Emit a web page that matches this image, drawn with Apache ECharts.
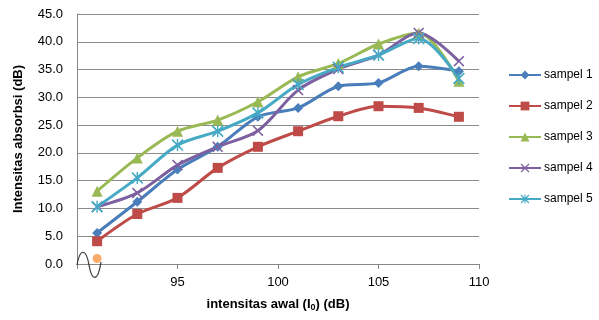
<!DOCTYPE html>
<html>
<head>
<meta charset="utf-8">
<script src="https://cdn.jsdelivr.net/npm/echarts@6/dist/echarts.min.js"></script>
<style>
  html, body { margin: 0; padding: 0; background: #fff; }
  #chart { width: 599px; height: 320px; }
</style>
</head>
<body>
<div id="chart"></div>
<script>
// intensitas awal (dB)
const xValues = [91, 93, 95, 97, 99, 101, 103, 105, 107, 109];
const sampel1 = [5.6, 11.2, 17.0, 21.1, 26.5, 28.1, 32.0, 32.6, 35.6, 34.7];
const sampel2 = [4.1, 9.0, 11.9, 17.3, 21.1, 23.9, 26.6, 28.4, 28.1, 26.5];
const sampel3 = [13.1, 19.1, 23.9, 25.9, 29.2, 33.7, 36.1, 39.6, 41.6, 32.9];
const sampel4 = [10.3, 12.8, 17.8, 21.1, 24.0, 31.3, 35.1, 37.6, 41.6, 36.5];
const sampel5 = [10.3, 15.5, 21.4, 23.9, 27.2, 32.3, 35.4, 37.6, 40.6, 33.4];
const breakPoint = [[91, 1.0]];
const seriesNames = ["sampel 1", "sampel 2", "sampel 3", "sampel 4", "sampel 5"];

const FONT = "Liberation Sans";
const xMark = "path://M0,1L1,0L5,4L9,0L10,1L6,5L10,9L9,10L5,6L1,10L0,9L4,5Z";
const starMark = "path://M0,1L1,0L5,4L9,0L10,1L6,5L10,9L9,10L5,6L1,10L0,9L4,5Z M4.4,0L5.6,0L5.6,10L4.4,10Z";

function pairs(vals) {
  return vals.map((v, i) => [xValues[i], v]);
}

function lineSeries(name, vals, color, symbol, size) {
  return {
    name: name,
    type: "line",
    data: pairs(vals),
    smooth: 0.3,
    symbol: symbol,
    symbolSize: size,
    lineStyle: { color: color, width: 3 },
    itemStyle: { color: color },
    z: 3
  };
}

const chart = echarts.init(document.getElementById("chart"));
chart.setOption({
  animation: false,
  textStyle: { fontFamily: FONT },
  grid: { left: 77, right: 120, top: 14, bottom: 56 },
  legend: {
    orient: "vertical",
    left: 503,
    top: 64,
    itemGap: 19,
    itemWidth: 32,
    itemHeight: 11,
    data: seriesNames,
    textStyle: { fontFamily: FONT, fontSize: 12, color: "#000", padding: [0, 0, 0, -2] }
  },
  xAxis: {
    type: "value",
    min: 90,
    max: 110,
    interval: 5,
    name: "intensitas awal (I{sub|0}) (dB)",
    nameLocation: "middle",
    nameGap: 33,
    nameTextStyle: {
      fontFamily: FONT, fontSize: 13, fontWeight: "bold", color: "#000",
      rich: { sub: { fontSize: 9, fontWeight: "bold", verticalAlign: "bottom", padding: [6, 0, 0, 0] } }
    },
    axisLine: { lineStyle: { color: "#888" } },
    axisTick: { lineStyle: { color: "#888" }, length: 5 },
    axisLabel: {
      fontSize: 13, color: "#000", margin: 12,
      formatter: v => (v === 90 ? "" : String(v))
    },
    splitLine: { show: false }
  },
  yAxis: {
    type: "value",
    min: 0,
    max: 45,
    interval: 5,
    name: "Intensitas absorbsi (dB)",
    nameLocation: "middle",
    nameGap: 52,
    nameTextStyle: { fontFamily: FONT, fontSize: 13, fontWeight: "bold", color: "#000" },
    axisLine: { show: true, lineStyle: { color: "#888" } },
    axisTick: { show: false },
    axisLabel: { fontSize: 13, color: "#000", margin: 14, formatter: v => v.toFixed(1) },
    splitLine: { lineStyle: { color: "#8c8c8c", width: 1 } }
  },
  graphic: [{
    type: "bezierCurve",
    shape: { x1: 77, y1: 265, cpx1: 80, cpy1: 248, cpx2: 86, cpy2: 248, x2: 89, y2: 265 },
    style: { stroke: "#333", lineWidth: 1.2, fill: null },
    z: 10
  }, {
    type: "bezierCurve",
    shape: { x1: 89, y1: 265, cpx1: 92, cpy1: 282, cpx2: 98, cpy2: 282, x2: 101, y2: 262 },
    style: { stroke: "#333", lineWidth: 1.2, fill: null },
    z: 10
  }],
  series: [
    lineSeries(seriesNames[0], sampel1, "#4a7ebb", "diamond", 10),
    lineSeries(seriesNames[1], sampel2, "#be4b48", "rect", 10),
    lineSeries(seriesNames[2], sampel3, "#98b954", "triangle", 11),
    lineSeries(seriesNames[3], sampel4, "#7d60a0", xMark, 11),
    lineSeries(seriesNames[4], sampel5, "#46aac5", starMark, 12),
    {
      name: "break",
      type: "scatter",
      data: breakPoint,
      symbol: "circle",
      symbolSize: 9,
      itemStyle: { color: "#f79646" },
      z: 11
    }
  ]
});
</script>
</body>
</html>
